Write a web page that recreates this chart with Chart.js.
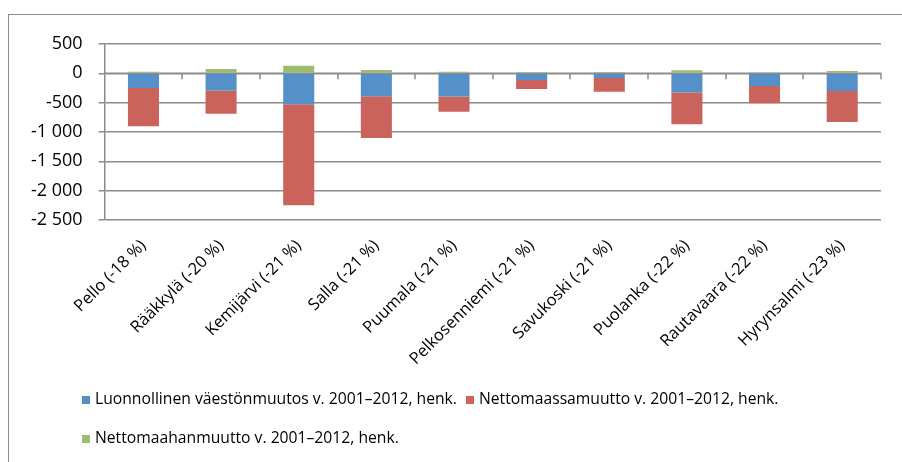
<!DOCTYPE html>
<html>
<head>
<meta charset="utf-8">
<script src="https://cdn.jsdelivr.net/npm/chart.js@4"></script>
<style>
  html, body { margin: 0; padding: 0; background: #fff; overflow: hidden; }
  #frame { position: absolute; left: 8px; top: 14px; width: 920px; height: 480px; border: 1.5px solid #8c8c8c; }
  #wrap { position: absolute; left: 0; top: 0; width: 902px; height: 462px; }
  #legend { position: absolute; left: 82px; top: 387px; width: 760px; font-family: "Open Sans", sans-serif; font-size: 15.7px; color: #000; }
  .item { display: inline-block; margin-right: 9px; height: 39px; white-space: nowrap; }
  .box { display: inline-block; width: 8px; height: 8px; margin-right: 5px; }
</style>
</head>
<body>
<div id="frame"></div>
<div id="wrap"><canvas id="chart" width="902" height="462"></canvas></div>
<div id="legend"></div>
<script>
const kunnat = ["Pello (-18 %)", "Rääkkylä (-20 %)", "Kemijärvi (-21 %)", "Salla (-21 %)", "Puumala (-21 %)",
  "Pelkosenniemi (-21 %)", "Savukoski (-21 %)", "Puolanka (-22 %)", "Rautavaara (-22 %)", "Hyrynsalmi (-23 %)"];
const luonnollinen = [-252, -298, -526, -389, -394, -115, -80, -326, -217, -303];
const nettomaassa = [-650, -393, -1724, -713, -263, -154, -235, -542, -291, -526];
const nettomaahan = [27, 74, 130, 56, 25, 4, 3, 51, 8, 39];
const yTicks = [500, 0, -500, -1000, -1500, -2000, -2500];

const gray = "#8c8c8c";

function fmt(v) {
  const s = String(Math.abs(v)).replace(/\B(?=(\d{3})+(?!\d))/g, " ");
  return (v < 0 ? "-" : "") + s;
}

// pienet jakoviivat nollatasolla luokkien väliin
const zeroTicks = {
  id: "zeroTicks",
  afterDatasetsDraw(chart) {
    const x = chart.scales.x, y = chart.scales.y;
    const y0 = y.getPixelForValue(0);
    const ctx = chart.ctx;
    ctx.save();
    ctx.strokeStyle = gray;
    ctx.lineWidth = 1.5;
    ctx.beginPath();
    for (let i = 1; i <= kunnat.length; i++) {
      const px = Math.round(x.getPixelForValue(i - 0.5));
      ctx.moveTo(px, y0);
      ctx.lineTo(px, y0 + 6);
    }
    ctx.moveTo(x.left, y0);
    ctx.lineTo(x.right, y0);
    ctx.stroke();
    ctx.restore();
  }
};

const datasets = [
  { label: "Luonnollinen väestönmuutos v. 2001–2012, henk.", data: luonnollinen, backgroundColor: "#5590c8" },
  { label: "Nettomaassamuutto v. 2001–2012, henk.", data: nettomaassa, backgroundColor: "#c9635b" },
  { label: "Nettomaahanmuutto v. 2001–2012, henk.", data: nettomaahan, backgroundColor: "#9bbe6e" }
];

new Chart(document.getElementById("chart"), {
  type: "bar",
  data: {
    labels: kunnat,
    datasets: datasets.map(d => Object.assign({ categoryPercentage: 1, barPercentage: 0.4 }, d))
  },
  options: {
    responsive: false,
    animation: false,
    devicePixelRatio: 1,
    layout: { padding: { left: 15, right: 21, top: 44, bottom: 85 } },
    plugins: { legend: { display: false }, tooltip: { enabled: false } },
    scales: {
      x: {
        stacked: true,
        grid: { display: false },
        border: { display: false },
        afterFit(axis) { axis.paddingLeft = 0; axis.paddingRight = 0; },
        ticks: {
          minRotation: 45, maxRotation: 45, autoSkip: false, padding: 8,
          color: "#000", font: { family: "Open Sans", size: 16.5 }
        }
      },
      y: {
        stacked: true,
        min: -2500, max: 500,
        afterBuildTicks(axis) { axis.ticks = yTicks.map(v => ({ value: v })); },
        grid: { color: gray, lineWidth: 1.5, tickLength: 6 },
        border: { display: true, color: gray, width: 1.5 },
        ticks: {
          padding: 16, color: "#000",
          font: { family: "Open Sans", size: 18 },
          callback: v => fmt(v)
        }
      }
    }
  },
  plugins: [zeroTicks]
});

const legend = document.getElementById("legend");
datasets.forEach(d => {
  const item = document.createElement("span");
  item.className = "item";
  const box = document.createElement("span");
  box.className = "box";
  box.style.background = d.backgroundColor;
  item.appendChild(box);
  item.appendChild(document.createTextNode(d.label));
  legend.appendChild(item);
});
</script>
</body>
</html>
